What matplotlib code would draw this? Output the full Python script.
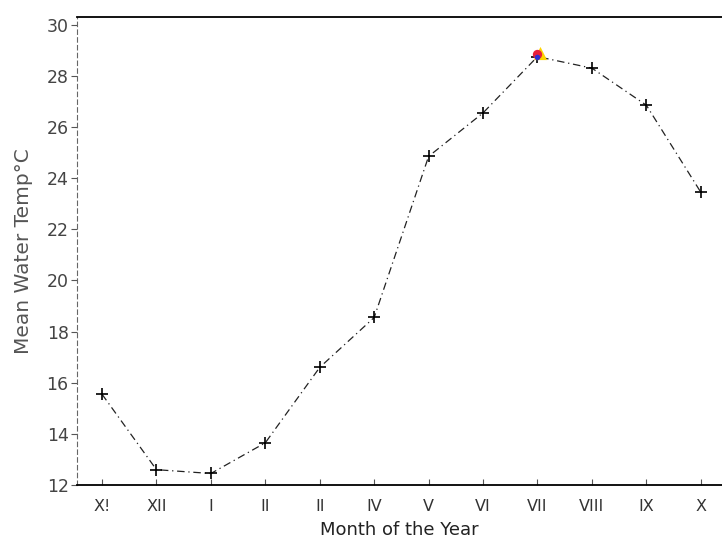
import matplotlib.pyplot as plt

plt.rcParams['font.family'] = ['DejaVu Sans']

# Monthly mean water temperature, Nov through Oct
months = ["X!", "XII", "I", "II", "II", "IV", "V", "VI", "VII", "VIII", "IX", "X"]
temps = [15.55, 12.6, 12.45, 13.65, 16.6, 18.55, 24.85, 26.55, 28.75, 28.3, 26.85, 23.45]
yticks = [12, 14, 16, 18, 20, 22, 24, 26, 28, 30]

fig = plt.figure(figsize=(7.22, 5.43), dpi=100)
ax = fig.add_axes([0.1066, 0.1068, 0.8934, 0.8619])

x = list(range(len(months)))
ax.plot(x, temps, color="#222222", lw=0.9, ls=(0, (6, 3, 1, 3)),
        marker="+", ms=9, mew=1.2, mec="black")

# colour smudge on the July point
ax.scatter([x[8] + 0.04], [temps[8] + 0.15], s=90, color="#ffd400", marker="^", zorder=3, lw=0)
ax.scatter([x[8]], [temps[8] + 0.12], s=45, color="#e8203a", zorder=4, lw=0)
ax.scatter([x[8]], [temps[8] - 0.02], s=16, color="#3030d0", zorder=5, lw=0)

ax.set_xlim(-0.46, 11.39)
ax.set_ylim(12, 30.3)
ax.set_xticks(x)
ax.set_xticklabels(months, fontsize=11.5, color="#333333")
ax.set_yticks(yticks)
ax.set_yticklabels([str(v) for v in yticks], fontsize=12.5, color="#444444")
ax.tick_params(axis="y", direction="out", length=4, width=0.8, color="#555555", pad=2)
ax.tick_params(axis="x", direction="in", length=4, width=0.8, color="#555555", pad=10)

ax.spines["right"].set_visible(False)
ax.spines["left"].set_linestyle((0, (4, 3)))
ax.spines["left"].set_color("#666666")
ax.spines["left"].set_linewidth(0.8)
ax.spines["bottom"].set_linewidth(1.3)
ax.spines["top"].set_linewidth(1.3)

ax.set_xlabel("Month of the Year", fontsize=13, color="#222222", labelpad=5)
ax.set_ylabel("Mean Water Temp°C", fontsize=14.5, color="#555555", labelpad=10)

fig.savefig("out.png", dpi=100)
